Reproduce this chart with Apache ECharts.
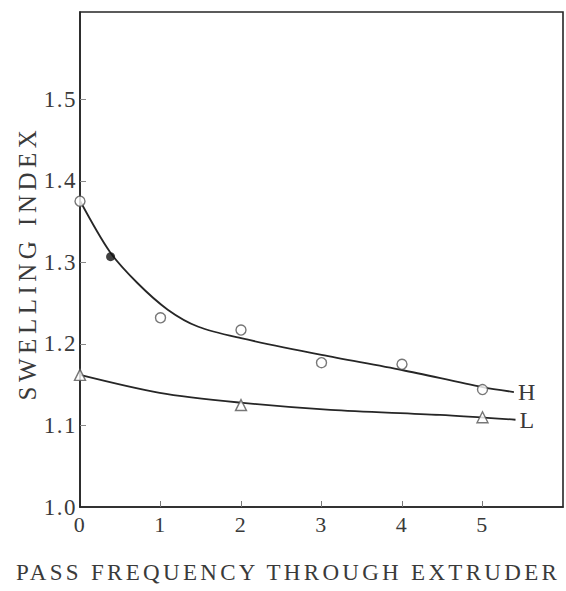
<!DOCTYPE html>
<html><head><meta charset="utf-8">
<script src="https://cdn.jsdelivr.net/npm/echarts@6/dist/echarts.min.js"></script>
<style>html,body{margin:0;padding:0;background:#fff}#c{width:566px;height:591px}</style>
</head><body><div id="c"></div>
<script>
// ---- data ----
const xTickValues = [0, 1, 2, 3, 4, 5];
const yTickValues = [1.0, 1.1, 1.2, 1.3, 1.4, 1.5];
const hCurve = [[0, 1.3755], [0.37, 1.313], [0.71, 1.275], [1.09, 1.242], [1.47, 1.221], [2, 1.207], [3, 1.1865], [4, 1.168], [5, 1.147], [5.39, 1.141]];
const hOpen = [[0, 1.375], [1, 1.232], [2, 1.217], [3, 1.177], [4, 1.175], [5, 1.144]];
const hFilled = [[0.38, 1.307]];
const lCurve = [[0, 1.162], [0.99, 1.140], [1.99, 1.128], [3.11, 1.119], [4.47, 1.113], [5.41, 1.107]];
const lTri = [[0, 1.162], [2, 1.125], [5, 1.110]];
const xName = 'PASS FREQUENCY THROUGH EXTRUDER';
const yName = 'SWELLING INDEX';
const hLabel = 'H';
const lLabel = 'L';

const FONT = "'Liberation Serif', 'DejaVu Serif', serif";
const TXT = '#3a3a3a';
const LINE = '#262626';

const chart = echarts.init(document.getElementById('c'), null, {renderer: 'svg', width: 566, height: 591});
chart.setOption({
  animation: false,
  backgroundColor: '#fff',
  grid: {left: 80, right: 3, top: 12, bottom: 84, show: true, borderColor: LINE, borderWidth: 1.6, containLabel: false},
  xAxis: {
    type: 'value', min: 0, max: 6, interval: 1,
    axisLine: {show: true, lineStyle: {color: LINE, width: 1.6}},
    axisTick: {show: true, inside: true, length: 6, customValues: xTickValues.slice(1), lineStyle: {color: '#777', width: 1}},
    axisLabel: {customValues: xTickValues, fontFamily: FONT, fontSize: 22, color: TXT, margin: 6},
    splitLine: {show: false}
  },
  yAxis: {
    type: 'value', min: 1.0, max: 1.607, interval: 0.1,
    axisLine: {show: true, lineStyle: {color: LINE, width: 1.6}},
    axisTick: {show: true, inside: true, length: 6, customValues: yTickValues.slice(1), lineStyle: {color: '#888', width: 1}},
    axisLabel: {customValues: yTickValues, formatter: v => v.toFixed(1), fontFamily: FONT, fontSize: 23, color: TXT, margin: 3},
    splitLine: {show: false}
  },
  graphic: [
    {type: 'text', x: 288, y: 572, style: {text: xName, font: "23px " + FONT, fill: TXT, align: 'center', verticalAlign: 'middle'}},
    {type: 'text', x: 27, y: 263, rotation: Math.PI / 2, style: {text: yName, font: "25px " + FONT, fill: TXT, align: 'center', verticalAlign: 'middle'}}
  ],
  series: [
    {type: 'line', data: hCurve, smooth: 0.3, showSymbol: false, lineStyle: {color: LINE, width: 1.8},
     endLabel: {show: true, formatter: hLabel, fontFamily: FONT, fontSize: 24, color: TXT, distance: 4}, z: 2},
    {type: 'line', data: lCurve, smooth: 0.3, showSymbol: false, lineStyle: {color: LINE, width: 1.8},
     endLabel: {show: true, formatter: lLabel, fontFamily: FONT, fontSize: 24, color: TXT, distance: 4}, z: 2},
    {type: 'scatter', data: hOpen, symbol: 'circle', symbolSize: 10, itemStyle: {color: '#fff', borderColor: '#555', borderWidth: 1.4}, z: 3},
    {type: 'scatter', data: hFilled, symbol: 'circle', symbolSize: 9, itemStyle: {color: '#111'}, z: 3},
    {type: 'scatter', data: lTri, symbol: 'triangle', symbolSize: 11, itemStyle: {color: '#fff', borderColor: '#555', borderWidth: 1.4}, z: 3}
  ]
});

function spacing() {
  document.querySelectorAll('#c text').forEach(t => {
    const s = t.textContent;
    let ls = '1.5px';
    if (s === xName) ls = '3.3px';
    else if (s === yName) ls = '4.5px';
    else if (s === hLabel || s === lLabel) ls = '0px';
    t.setAttribute('letter-spacing', ls);
    t.style.letterSpacing = ls;
  });
}
spacing();
chart.on('finished', spacing);
setTimeout(spacing, 50);
</script>
</body></html>
